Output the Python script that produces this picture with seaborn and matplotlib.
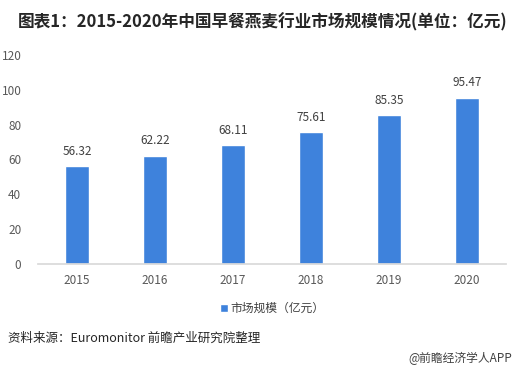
"""Bar chart: China breakfast oatmeal market size 2015-2020."""
import matplotlib

matplotlib.use("Agg")
import matplotlib.pyplot as plt
import pandas as pd
import seaborn as sns

years = ["2015", "2016", "2017", "2018", "2019", "2020"]
market_size = [56.32, 62.22, 68.11, 75.61, 85.35, 95.47]
series_name = "市场规模（亿元）"
y_ticks = [0, 20, 40, 60, 80, 100, 120]

sns.set_theme(style="white")
plt.rcParams["font.family"] = ["Noto Sans CJK SC", "DejaVu Sans"]

frame = pd.DataFrame({"year": years, "value": market_size, "series": series_name})

fig = plt.figure(figsize=(5.16, 3.70), dpi=100)
ax = fig.add_axes([38 / 516, 1 - 264 / 370, 468 / 516, 209 / 370])
sns.barplot(data=frame, x="year", y="value", hue="series", palette=["#3E82DC"],
            width=0.32, ax=ax, saturation=1)

ax.set_ylim(0, 120)
ax.set_xlim(-0.5, 5.5)
ax.set_yticks(y_ticks)
ax.set_xlabel("")
ax.set_ylabel("")
for side in ["top", "right", "left"]:
    ax.spines[side].set_visible(False)
ax.spines["bottom"].set_color("#D9D9D9")
ax.tick_params(axis="both", length=0, labelsize=8.5, colors="#595959")
ax.tick_params(axis="x", pad=7)
ax.tick_params(axis="y", pad=12)

for container in ax.containers:
    ax.bar_label(container, fmt="%.2f", padding=6, fontsize=8.5, color="#404040")

ax.legend(loc="upper center", bbox_to_anchor=(0.5, -0.13), frameon=False,
          fontsize=8.5, handlelength=0.7, handleheight=0.7, handletextpad=0.2,
          labelcolor="#404040")

fig.text(18 / 516, 1 - 22 / 370, "图表1：2015-2020年中国早餐燕麦行业市场规模情况(单位：亿元)",
         fontsize=12, fontweight="bold", color="#262626", va="center")
fig.text(8 / 516, 1 - 338 / 370, "资料来源：Euromonitor 前瞻产业研究院整理",
         fontsize=9, color="#262626", va="center")
fig.text(512 / 516, 1 - 358 / 370, "@前瞻经济学人APP",
         fontsize=8.5, color="#404040", va="center", ha="right")

fig.savefig("out.png", dpi=100)
plt.close(fig)
